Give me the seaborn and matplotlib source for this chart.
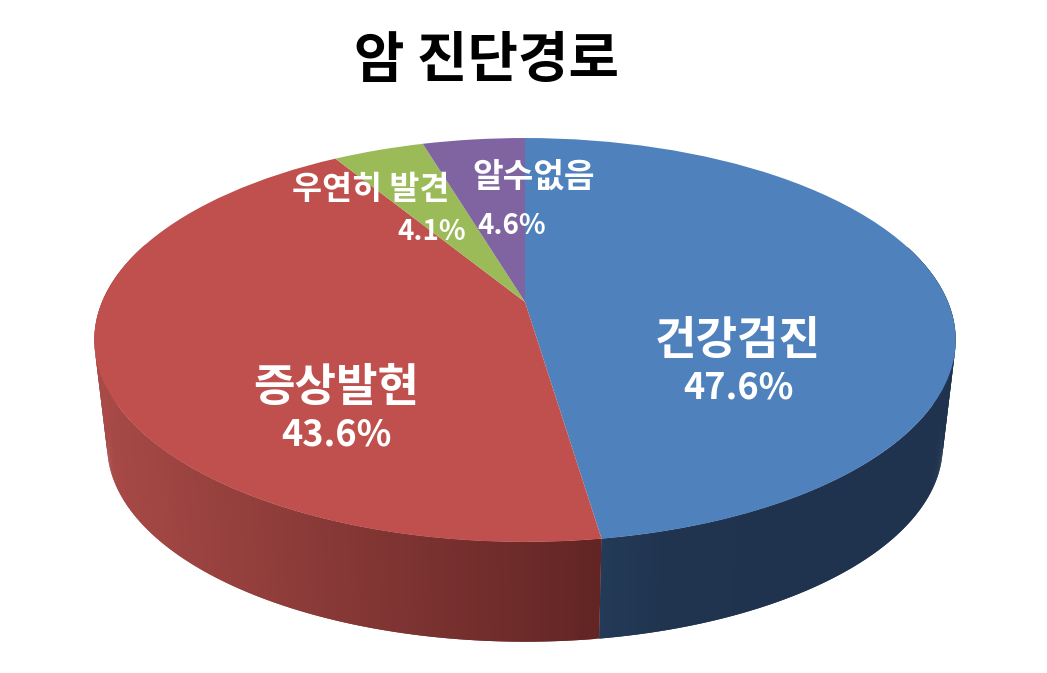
import numpy as np
import matplotlib
matplotlib.use("Agg")
import matplotlib.pyplot as plt
from matplotlib.transforms import Transform
import seaborn as sns

title = "암 진단경로"
categories = ["건강검진", "증상발현", "우연히 발견", "알수없음"]
values = [47.6, 43.6, 4.1, 4.6]
pct_labels = ["47.6%", "43.6%", "4.1%", "4.6%"]
colors = ["#4F81BD", "#C0504D", "#9BBB59", "#8064A2"]
# wall shading, left end of the wedge's rim to right end
wall_colors = [["#274263", "#20344F", "#1F334E", "#1F334E"], ["#A84A47", "#622524"],
               ["#5D7035", "#5D7035"], ["#4C3C61", "#4C3C61"]]

# perspective of the disc, in pixels of the 1047x673 picture
CX, CY = 525, 302
A, B, K = 423, 194.8, 0.188
DROP, SHRINK = 107, 0.97


def project(u, v):
    w = 1 + K * v
    return CX + A * u / w, CY - B * v / w


class Perspective(Transform):
    input_dims = 2
    output_dims = 2
    is_separable = False

    def transform_non_affine(self, xy):
        xy = np.asarray(xy)
        x, y = project(xy[:, 0], xy[:, 1])
        return np.column_stack([x, y])


sns.set_theme(style="white")
plt.rcParams["font.family"] = ["Noto Sans CJK KR", "DejaVu Sans"]

fig = plt.figure(figsize=(10.47, 6.73), dpi=100)
ax = fig.add_axes([0, 0, 1, 1])

wedges, _ = ax.pie(values, colors=colors, startangle=90, counterclock=False,
                   wedgeprops={"linewidth": 0})
ax.set_aspect("auto")
ax.set_xlim(0, 1047)
ax.set_ylim(673, 0)
ax.axis("off")

persp = Perspective()
for w in wedges:
    w.set_transform(persp + ax.transData)
    w.set_zorder(3)

# side wall, thin strips so the shading can run along the rim
edges = np.concatenate([[0], np.cumsum(values)]) / sum(values) * 2 * np.pi
for i in range(len(values)):
    n = max(int((edges[i + 1] - edges[i]) * 120), 2)
    th = np.linspace(edges[i], edges[i + 1], n + 1)
    x, y = project(np.sin(th), np.cos(th))
    xb = CX + SHRINK * (x - CX)
    yb = CY + DROP + SHRINK * (y - CY)
    pal = sns.blend_palette(wall_colors[i], 256)
    xmin, xmax = x.min(), x.max()
    for j in range(n):
        if np.cos(th[j]) > 0.3:
            continue  # back of the disc, hidden by the top
        # strips overlap the next one so no seams show
        k = min(j + 2, n)
        t = (x[j] - xmin) / max(xmax - xmin, 1)
        ax.fill([x[j], x[k], xb[k], xb[j]], [y[j], y[k], yb[k], yb[j]],
                color=pal[int(t * 255)], lw=0, zorder=2)

ax.text(486, 61, title, fontsize=39.5, fontweight="bold", color="black", ha="center", va="center")

ax.text(738, 341, categories[0], fontsize=32.5, fontweight="bold", color="white", ha="center", va="center", zorder=4)
ax.text(738, 388, pct_labels[0], fontsize=26, fontweight="bold", color="white", ha="center", va="center", zorder=4)
ax.text(336, 388, categories[1], fontsize=32.5, fontweight="bold", color="white", ha="center", va="center", zorder=4)
ax.text(336, 435, pct_labels[1], fontsize=26, fontweight="bold", color="white", ha="center", va="center", zorder=4)
ax.text(371, 189, categories[2], fontsize=23.5, fontweight="bold", color="white", ha="center", va="center", zorder=4)
ax.text(432, 232, pct_labels[2], fontsize=20, fontweight="bold", color="white", ha="center", va="center", zorder=4)
ax.text(534, 177, categories[3], fontsize=24, fontweight="bold", color="white", ha="center", va="center", zorder=4)
ax.text(512, 226, pct_labels[3], fontsize=20, fontweight="bold", color="white", ha="center", va="center", zorder=4)

fig.savefig("out.png", dpi=100)
